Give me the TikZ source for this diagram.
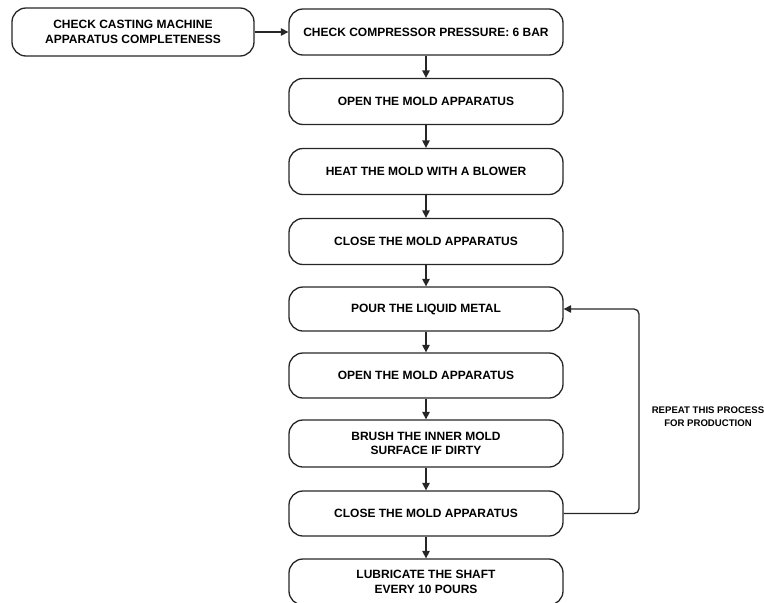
\documentclass[tikz,border=0pt]{standalone}
\usepackage{fontspec}
\setmainfont{Liberation Sans}
\usetikzlibrary{arrows.meta}
\tikzset{
  stepbox/.style={draw=black!85, line width=1.3pt, rounded corners=14pt,
    minimum width=274pt, minimum height=46pt, align=center, inner sep=2pt,
    font=\fontsize{12}{14.5}\selectfont\bfseries},
  conn/.style={draw=black!85, line width=1.3pt, -{Triangle[length=7.5pt,width=7.5pt]}},
  lbl/.style={align=center, font=\fontsize{9.6}{12.6}\selectfont\bfseries}
}
\begin{document}
\begin{tikzpicture}[x=1pt,y=-1pt]
\useasboundingbox (0,0) rectangle (764,603);
\node[stepbox, minimum width=242pt, minimum height=48pt] (a) at (133,32) {CHECK CASTING MACHINE\\APPARATUS COMPLETENESS};
\node[stepbox] (b1) at (426,32) {CHECK COMPRESSOR PRESSURE: 6 BAR};
\node[stepbox] (b2) at (426,101.5) {OPEN THE MOLD APPARATUS};
\node[stepbox] (b3) at (426,171.5) {HEAT THE MOLD WITH A BLOWER};
\node[stepbox] (b4) at (426,241.5) {CLOSE THE MOLD APPARATUS};
\node[stepbox, minimum height=44pt] (b5) at (426,309) {POUR THE LIQUID METAL};
\node[stepbox, minimum height=45pt] (b6) at (426,375.5) {OPEN THE MOLD APPARATUS};
\node[stepbox, minimum height=47pt] (b7) at (426,443.5) {BRUSH THE INNER MOLD\\SURFACE IF DIRTY};
\node[stepbox, minimum height=45pt] (b8) at (426,513.5) {CLOSE THE MOLD APPARATUS};
\node[stepbox] (b9) at (426,582) {LUBRICATE THE SHAFT\\EVERY 10 POURS};
\draw[conn] (a) -- (b1);
\draw[conn] (b1) -- (b2);
\draw[conn] (b2) -- (b3);
\draw[conn] (b3) -- (b4);
\draw[conn] (b4) -- (b5);
\draw[conn] (b5) -- (b6);
\draw[conn] (b6) -- (b7);
\draw[conn] (b7) -- (b8);
\draw[conn] (b8) -- (b9);
\coordinate (lp) at (639,513.5);
\draw[conn, rounded corners=5pt] (b8.east) -- (lp) |- (b5.east);
\node[lbl] (rep) at (708,416.5) {REPEAT THIS PROCESS\\FOR PRODUCTION};
\end{tikzpicture}
\end{document}
